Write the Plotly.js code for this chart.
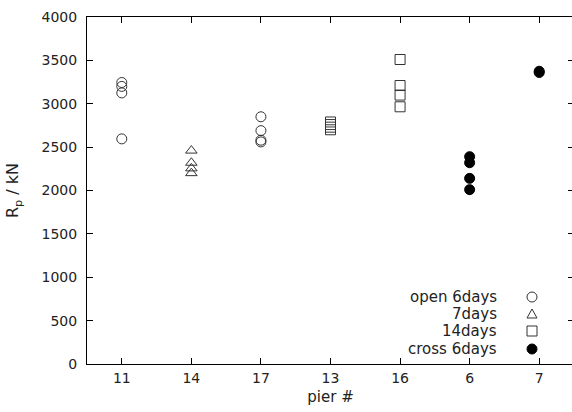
<!DOCTYPE html>
<html>
<head>
<meta charset="utf-8">
<script src="https://cdn.plot.ly/plotly-3.0.1.min.js"></script>
<style>html,body{margin:0;padding:0;background:#fff;overflow:hidden;}</style>
</head>
<body>
<div id="chart" style="width:576px;height:412px;"></div>
<script>
// ---- data ----
const pierOrder = ['11', '14', '17', '13', '16', '6', '7'];
const seriesNames = ['open 6days', '7days', '14days', 'cross 6days'];

const openPiers = ['11', '11', '11', '11', '17', '17', '17', '17'];
const openValues = [3245, 3200, 3125, 2595, 2850, 2690, 2580, 2560];

const days7Piers = ['14', '14', '14', '14'];
const days7Values = [2460, 2320, 2255, 2200];

const days14Piers = ['13', '13', '13', '13', '16', '16', '16', '16'];
const days14Values = [2790, 2760, 2730, 2700, 3510, 3210, 3100, 2965];

const crossPiers = ['6', '6', '6', '6', '7', '7'];
const crossValues = [2390, 2320, 2140, 2010, 3375, 3360];

const yTicks = [0, 500, 1000, 1500, 2000, 2500, 3000, 3500, 4000];

// ---- styling ----
const FONT = 'DejaVu Sans, Liberation Sans, Arial, sans-serif';
const INK = '#222';
const W = 576, H = 412;
const M = {l: 87, r: 2, t: 17, b: 48};
const plotW = W - M.l - M.r, plotH = H - M.t - M.b;
const px2x = p => (p - M.l) / plotW;
const px2y = p => (H - M.b - p) / plotH;

const symbols = ['circle-open', 'triangle-up-open', 'square-open', 'circle'];
const sizes = [10, 10, 10, 10];
const xs = [openPiers, days7Piers, days14Piers, crossPiers];
const ys = [openValues, days7Values, days14Values, crossValues];

const traces = seriesNames.map((name, i) => ({
  type: 'scatter', mode: 'markers', name: name,
  x: xs[i], y: ys[i],
  marker: {symbol: symbols[i], size: sizes[i], color: i === 3 ? '#000' : '#333',
           line: {color: i === 3 ? '#000' : '#333', width: 1}},
  showlegend: false
}));

// manual legend (text right-aligned, symbol on the right)
const legendTextX = px2x(499);
const legendSymX = px2x(532);
const legendRowsY = [297, 314, 331, 349].map(px2y);
const annotations = seriesNames.map((name, i) => ({
  xref: 'paper', yref: 'paper', x: legendTextX, y: legendRowsY[i],
  xanchor: 'right', yanchor: 'middle', showarrow: false,
  text: name, font: {family: FONT, size: 15, color: INK}
}));
const shapeBase = i => ({xref: 'paper', yref: 'paper', xsizemode: 'pixel', ysizemode: 'pixel',
  xanchor: legendSymX, yanchor: legendRowsY[i], line: {color: '#333', width: 1}});
const shapes = [
  Object.assign(shapeBase(0), {type: 'circle', x0: -5, x1: 5, y0: -5, y1: 5}),
  Object.assign(shapeBase(1), {type: 'path', path: 'M-5,-4L5,-4L0,5Z'}),
  Object.assign(shapeBase(2), {type: 'rect', x0: -5, x1: 5, y0: -5, y1: 5}),
  Object.assign(shapeBase(3), {type: 'circle', x0: -5, x1: 5, y0: -5, y1: 5, fillcolor: '#000', line: {color: '#000', width: 1}})
];

const axisCommon = {
  showline: true, linecolor: '#000', linewidth: 1, mirror: 'ticks',
  ticks: 'inside', ticklen: 6, tickcolor: '#000', tickwidth: 1,
  showgrid: false, zeroline: false,
  tickfont: {family: FONT, size: 14, color: INK}
};

const layout = {
  width: W, height: H,
  margin: M,
  paper_bgcolor: '#fff', plot_bgcolor: '#fff',
  showlegend: false,
  xaxis: Object.assign({}, axisCommon, {
    type: 'category', categoryorder: 'array', categoryarray: pierOrder,
    tickvals: pierOrder, range: [-0.5, 6.5],
    ticklabelstandoff: 1,
    title: {text: 'pier #', font: {family: FONT, size: 15, color: INK}, standoff: 6}
  }),
  yaxis: Object.assign({}, axisCommon, {
    range: [0, 4000], tickvals: yTicks,
    ticklabelstandoff: 6,
    title: {text: 'R<sub>p</sub> / kN', font: {family: FONT, size: 16, color: INK}, standoff: 18}
  }),
  annotations: annotations,
  shapes: shapes,
  font: {family: FONT, color: INK}
};

Plotly.newPlot('chart', traces, layout, {displayModeBar: false, staticPlot: true});
</script>
</body>
</html>
